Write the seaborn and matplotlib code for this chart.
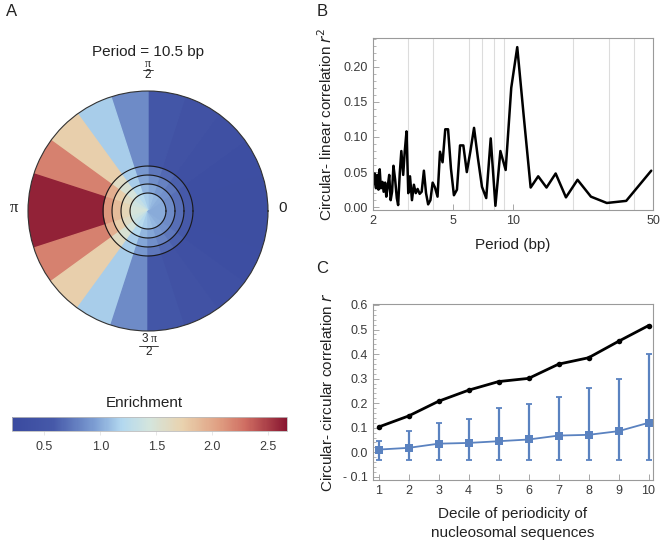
import numpy as np
import pandas as pd
import matplotlib
matplotlib.use("Agg")
import matplotlib.pyplot as plt
from matplotlib.colors import LinearSegmentedColormap, Normalize
from matplotlib.ticker import FixedLocator, MultipleLocator, NullFormatter
from matplotlib.lines import Line2D
import seaborn as sns

# ---- data -------------------------------------------------------------
# panel A: enrichment per 18 degree phase sector (starting at 0 rad), for
# the central disc and the four rings around it, inner to outer
sector_deg = [0, 18, 36, 54, 72, 90, 108, 126, 144, 162,
              180, 198, 216, 234, 252, 270, 288, 306, 324, 342]
ring_edges = [0.0, 0.15, 0.225, 0.30, 0.375, 1.0]
ring1 = [1.00, 1.00, 1.02, 1.06, 1.10, 1.15, 1.22, 1.32, 1.40, 1.45,
         1.45, 1.40, 1.32, 1.22, 1.15, 1.10, 1.06, 1.02, 1.00, 1.00]
ring2 = [0.85, 0.85, 0.88, 0.92, 0.98, 1.05, 1.20, 1.45, 1.60, 1.68,
         1.68, 1.60, 1.45, 1.20, 1.05, 0.98, 0.92, 0.88, 0.85, 0.85]
ring3 = [0.70, 0.70, 0.74, 0.80, 0.87, 0.98, 1.15, 1.50, 1.75, 1.88,
         1.88, 1.75, 1.50, 1.15, 0.98, 0.87, 0.80, 0.74, 0.70, 0.70]
ring4 = [0.58, 0.58, 0.62, 0.67, 0.74, 0.92, 1.15, 1.60, 1.95, 2.10,
         2.10, 1.95, 1.60, 1.15, 0.92, 0.74, 0.67, 0.62, 0.58, 0.58]
outer = [0.30, 0.32, 0.36, 0.42, 0.50, 0.85, 1.15, 1.75, 2.20, 2.62,
         2.62, 2.20, 1.75, 1.15, 0.85, 0.50, 0.42, 0.36, 0.32, 0.30]
enrich_min, enrich_max = 0.21, 2.67

# panel B: circular-linear r^2 against period
period = [49.0, 36.75, 29.4, 24.5, 21.0, 18.38, 16.33, 14.7, 13.36, 12.25,
          11.31, 10.5, 9.8, 9.19, 8.65, 8.17, 7.74, 7.35, 7.0, 6.68,
          6.39, 6.13, 5.88, 5.65, 5.44, 5.25, 5.07, 4.9, 4.74, 4.59,
          4.45, 4.32, 4.2, 4.08, 3.97, 3.87, 3.77, 3.68, 3.59, 3.5,
          3.42, 3.34, 3.27, 3.2, 3.13, 3.06, 3.0, 2.94, 2.88, 2.83,
          2.77, 2.72, 2.67, 2.63, 2.58, 2.53, 2.49, 2.45, 2.41, 2.37,
          2.33, 2.3, 2.26, 2.23, 2.19, 2.16, 2.13, 2.1, 2.07, 2.04, 2.01]
r2 = [0.052, 0.009, 0.006, 0.015, 0.039, 0.014, 0.048, 0.028, 0.044, 0.028,
      0.130, 0.228, 0.170, 0.053, 0.080, 0.002, 0.098, 0.013, 0.029, 0.070,
      0.113, 0.080, 0.050, 0.088, 0.088, 0.025, 0.017, 0.055, 0.111, 0.111,
      0.064, 0.079, 0.015, 0.028, 0.035, 0.010, 0.004, 0.020, 0.052, 0.022,
      0.019, 0.026, 0.020, 0.032, 0.010, 0.044, 0.020, 0.108, 0.079, 0.046,
      0.080, 0.048, 0.003, 0.013, 0.039, 0.059, 0.022, 0.010, 0.046, 0.030,
      0.015, 0.035, 0.022, 0.036, 0.027, 0.054, 0.025, 0.046, 0.027, 0.048,
      0.032]
grid_periods = [3, 4, 6, 7, 8, 9, 20, 30, 40]

# panel C: circular-circular r per decile
decile = [1, 2, 3, 4, 5, 6, 7, 8, 9, 10]
r_obs = [0.103, 0.148, 0.208, 0.253, 0.288, 0.301, 0.359, 0.385, 0.452, 0.516]
r_ctrl = [0.011, 0.018, 0.035, 0.038, 0.045, 0.052, 0.068, 0.071, 0.086, 0.120]
ctrl_lo = [-0.033, -0.033, -0.033, -0.033, -0.033, -0.033, -0.033, -0.033, -0.033, -0.033]
ctrl_hi = [0.046, 0.087, 0.120, 0.136, 0.180, 0.198, 0.226, 0.263, 0.297, 0.402]

# ---- style ------------------------------------------------------------
sns.set_theme(style="ticks")
plt.rcParams['font.family'] = ['Liberation Sans', 'DejaVu Sans']
dark = '#222222'
tick_col = '#3a3a3a'
frame_col = '#9a9a9a'
blue = '#5a82c0'

W, H = 661, 543
fig = plt.figure(figsize=(W / 100, H / 100), dpi=100)


def fx(px):
    return px / W


def fy(py):
    return 1 - py / H


cmap = LinearSegmentedColormap.from_list('thermo', [
    (0.00, '#3a4a9f'), (0.15, '#4659a9'), (0.30, '#7d9ed3'),
    (0.40, '#b3d8ef'), (0.50, '#d4e5dd'), (0.62, '#e9d2ae'),
    (0.75, '#e0a083'), (0.85, '#cf6d62'), (1.00, '#891731')])
norm = Normalize(enrich_min, enrich_max)

# ---- A: polar phase map ----------------------------------------------
cx, cy, R = 148, 211, 120
axa = fig.add_axes([fx(cx - R), fy(cy + R), fx(2 * R), 2 * R / H], projection='polar')
rings = [ring1, ring2, ring3, ring4, outer]
theta = np.deg2rad(np.array(sector_deg) + 9)
for i, vals in enumerate(rings):
    cols = cmap(norm(np.array(vals)))
    axa.bar(theta, ring_edges[i + 1] - ring_edges[i], width=np.deg2rad(18),
            bottom=ring_edges[i], color=cols, edgecolor=cols, linewidth=1.0,
            align='center')
circ = np.linspace(0, 2 * np.pi, 300)
for r in ring_edges[1:-1]:
    axa.plot(circ, np.full_like(circ, r), color='#1a1a1a', lw=0.8)
axa.set_ylim(0, 1)
axa.set_xticks([])
axa.set_yticks([])
axa.grid(False)
axa.spines['polar'].set_color('#333333')
axa.spines['polar'].set_linewidth(0.8)

fig.text(fx(148), fy(52), 'Period = 10.5 bp', ha='center', va='center', fontsize=11, color=dark)
fig.text(fx(283), fy(208), '0', ha='center', va='center', fontsize=11, color=dark)
fig.text(fx(14), fy(208), 'π', ha='center', va='center', fontsize=12, color=dark,
         family=['Liberation Serif', 'DejaVu Serif'])
# pi/2 and 3pi/2 as stacked fractions
fig.text(fx(148), fy(64), 'π', ha='center', va='center', fontsize=8.5, color=dark,
         family=['Liberation Serif', 'DejaVu Serif'])
fig.add_artist(Line2D([fx(143), fx(153)], [fy(70), fy(70)], color=dark, lw=0.6))
fig.text(fx(148), fy(75.5), '2', ha='center', va='center', fontsize=8.5, color=dark)
fig.text(fx(148), fy(339.5), '3', ha='right', va='center', fontsize=8.5, color=dark)
fig.text(fx(148), fy(339.5), ' π', ha='left', va='center', fontsize=8.5, color=dark,
         family=['Liberation Serif', 'DejaVu Serif'])
fig.add_artist(Line2D([fx(139), fx(158)], [fy(346), fy(346)], color=dark, lw=0.6))
fig.text(fx(149), fy(352), '2', ha='center', va='center', fontsize=8.5, color=dark)

# colorbar
cax = fig.add_axes([fx(12), fy(431), fx(275), 14 / H])
sm = plt.cm.ScalarMappable(norm=norm, cmap=cmap)
cb = fig.colorbar(sm, cax=cax, orientation='horizontal', ticks=[0.5, 1.0, 1.5, 2.0, 2.5])
cb.ax.set_xticklabels(['0.5', '1.0', '1.5', '2.0', '2.5'])
cb.ax.tick_params(labelsize=9, colors=tick_col, length=3, width=0.5, color='#dddddd', pad=4)
cb.outline.set_edgecolor('#bbbbbb')
cb.outline.set_linewidth(0.6)
fig.text(fx(144), fy(403), 'Enrichment', ha='center', va='center', fontsize=11, color=dark)


def frame(ax):
    for s in ax.spines.values():
        s.set_color(frame_col)
        s.set_linewidth(0.8)
        s.set_visible(True)
    ax.tick_params(which='both', direction='in', colors=frame_col, labelcolor=tick_col,
                   labelsize=9, top=False, right=False)
    ax.tick_params(which='major', length=4, width=0.6)
    ax.tick_params(which='minor', length=2, width=0.5)


# ---- B: periodogram ---------------------------------------------------
axb = fig.add_axes([fx(373), fy(210), fx(280), 172 / H])
dfb = pd.DataFrame({'period': period, 'r2': r2})
sns.lineplot(data=dfb, x='period', y='r2', ax=axb, color='black', lw=1.8, sort=True)
axb.set_xscale('log')
axb.set_xlim(2, 50)
axb.set_ylim(-0.004, 0.241)
axb.xaxis.set_major_locator(FixedLocator([2, 5, 10, 50]))
axb.set_xticklabels(['2', '5', '10', '50'])
axb.xaxis.set_minor_locator(FixedLocator(grid_periods))
axb.xaxis.set_minor_formatter(NullFormatter())
axb.grid(which='minor', axis='x', color='#dcdcdc', lw=0.8)
axb.set_axisbelow(True)
axb.yaxis.set_major_locator(MultipleLocator(0.05))
axb.yaxis.set_minor_locator(MultipleLocator(0.01))
axb.yaxis.set_major_formatter(lambda v, p: f'{v:.2f}')
frame(axb)
axb.tick_params(axis='x', which='minor', length=0)
axb.set_xlabel('Period (bp)', fontsize=11, color=dark, labelpad=8)
axb.set_ylabel('Circular- linear correlation $\\it{r}^2$', fontsize=11, color=dark, labelpad=6)

# ---- C: decile correlation -------------------------------------------
axc = fig.add_axes([fx(373), fy(480), fx(280), 176 / H])
dfc = pd.DataFrame({'decile': decile, 'observed': r_obs, 'control': r_ctrl})
ctrl = np.array(r_ctrl)
axc.errorbar(decile, r_ctrl, yerr=[ctrl - np.array(ctrl_lo), np.array(ctrl_hi) - ctrl],
             fmt='none', ecolor=blue, elinewidth=1.6, capsize=2.5, capthick=1.3)
sns.lineplot(data=dfc, x='decile', y='control', ax=axc, color=blue, lw=1.3,
             marker='s', markersize=5.5, markeredgewidth=0, markerfacecolor=blue)
sns.lineplot(data=dfc, x='decile', y='observed', ax=axc, color='black', lw=2,
             marker='o', markersize=4, markeredgewidth=0, markerfacecolor='black')
axc.set_xlim(0.81, 10.15)
axc.set_ylim(-0.113, 0.604)
axc.xaxis.set_major_locator(FixedLocator(decile))
axc.yaxis.set_major_locator(MultipleLocator(0.1))
axc.yaxis.set_minor_locator(MultipleLocator(0.02))
axc.yaxis.set_major_formatter(lambda v, p: ('- ' if v < -1e-9 else '') + f'{abs(v):.1f}')
frame(axc)
axc.set_xlabel('Decile of periodicity of\nnucleosomal sequences', fontsize=11, color=dark,
               labelpad=7, linespacing=1.45)
axc.set_ylabel('Circular- circular correlation $\\it{r}$', fontsize=11, color=dark, labelpad=6)

# panel letters
for letter, (px, py) in {'A': (12, 12), 'B': (322, 12), 'C': (322, 268)}.items():
    fig.text(fx(px), fy(py), letter, ha='center', va='center', fontsize=12, color=dark)

fig.savefig('out.png', dpi=100)
